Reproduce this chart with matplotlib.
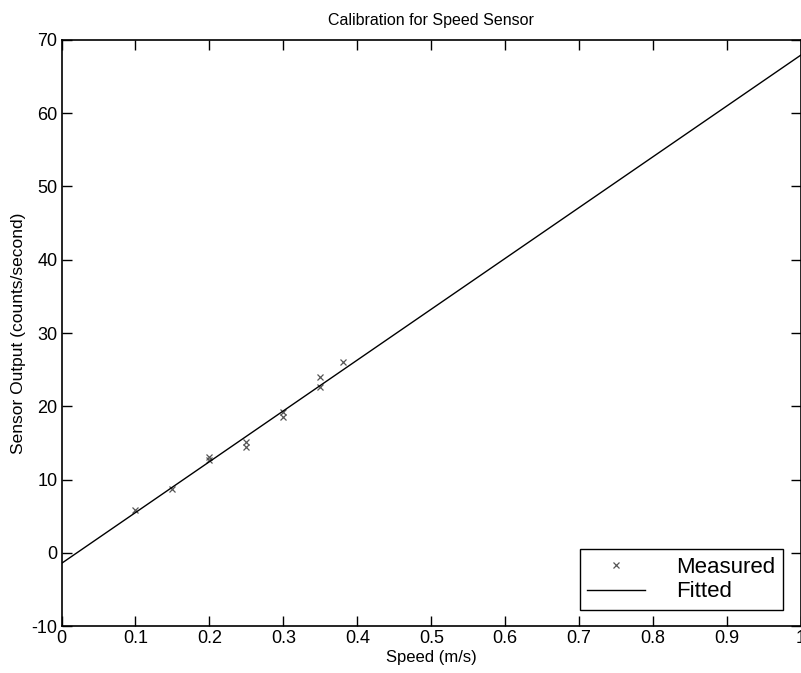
import numpy as np
import matplotlib.pyplot as plt

plt.rcParams["font.family"] = ["Liberation Sans", "DejaVu Sans"]
plt.rcParams["axes.unicode_minus"] = False

# measured calibration points
speed = [0.10, 0.15, 0.20, 0.20, 0.25, 0.25, 0.30, 0.30, 0.35, 0.35, 0.38]
counts = [5.9, 8.7, 12.6, 13.1, 14.5, 15.1, 19.2, 18.5, 24.0, 22.6, 26.0]

# fitted line (slope, intercept)
fit_slope = 69.4
fit_intercept = -1.45
fit_x = [0.0, 1.0]

fig = plt.figure(figsize=(8.01, 6.73), dpi=100)
ax = fig.add_axes([0.0768, 0.0698, 0.9232, 0.8708])

ax.plot(speed, counts, "x", color="#555555", markersize=5, markeredgewidth=0.9, label="Measured")
fx = np.array(fit_x)
ax.plot(fx, fit_slope * fx + fit_intercept, "-", color="black", linewidth=1.0, label="Fitted")

ax.set_xlim(0, 1)
ax.set_ylim(-10, 70)
ax.set_xticks(np.arange(0, 1.01, 0.1))
ax.set_xticklabels(["0", "0.1", "0.2", "0.3", "0.4", "0.5", "0.6", "0.7", "0.8", "0.9", "1"])
ax.set_yticks(np.arange(-10, 71, 10))
ax.tick_params(direction="in", top=True, right=True, length=7, width=1.0, labelsize=13, pad=3)
for s in ax.spines.values():
    s.set_linewidth(1.2)

ax.set_title("Calibration for Speed Sensor", fontsize=11.5, pad=11)
ax.set_xlabel("Speed (m/s)", fontsize=12, labelpad=2)
ax.set_ylabel("Sensor Output (counts/second)", fontsize=12.5, labelpad=4)

leg = ax.legend(loc="lower right", bbox_to_anchor=(0.976, 0.027), fontsize=16,
                frameon=True, fancybox=False, edgecolor="black", framealpha=1,
                handlelength=2.6, handletextpad=1.4, borderpad=0.35, labelspacing=0.15,
                borderaxespad=0)
leg.get_frame().set_linewidth(1.0)

fig.savefig("out.png", dpi=100)
